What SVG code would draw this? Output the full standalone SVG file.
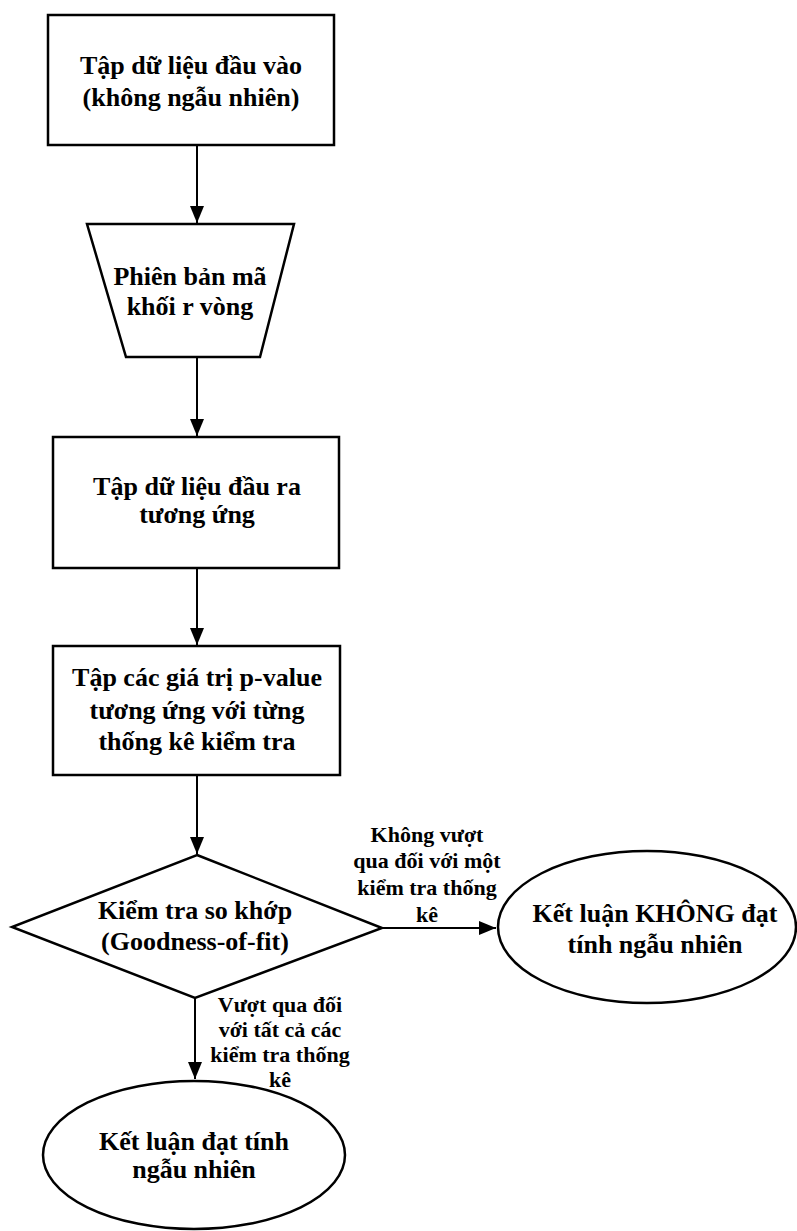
<svg xmlns="http://www.w3.org/2000/svg" width="797" height="1231" viewBox="0 0 797 1231">
<style>
.shape{fill:#fff;stroke:#000;stroke-width:2.5}
.t{font-family:"Liberation Serif","Times New Roman",serif;font-weight:bold;font-size:26px;text-anchor:middle;fill:#000}
.l{font-family:"Liberation Serif","Times New Roman",serif;font-weight:bold;font-size:22px;text-anchor:middle;fill:#000}
.c{fill:none;stroke:#000;stroke-width:2}
</style>
<defs>
<marker id="arr" markerUnits="userSpaceOnUse" markerWidth="18" markerHeight="14" refX="17" refY="7" orient="auto">
<path d="M0,0 L17,7 L0,14 z" fill="#000"/>
</marker>
</defs>
<rect width="797" height="1231" fill="#fff"/>
<g id="connectors">
<line class="c" x1="197" y1="145" x2="197" y2="223" marker-end="url(#arr)"/>
<line class="c" x1="197" y1="357" x2="197" y2="436" marker-end="url(#arr)"/>
<line class="c" x1="197" y1="568" x2="197" y2="645" marker-end="url(#arr)"/>
<line class="c" x1="197" y1="775" x2="197" y2="854" marker-end="url(#arr)"/>
<line class="c" x1="382" y1="928" x2="496" y2="928" marker-end="url(#arr)"/>
<line class="c" x1="195" y1="998" x2="195" y2="1079" marker-end="url(#arr)"/>
</g>
<g id="n1">
<rect class="shape" x="48" y="15" width="286" height="130"/>
<text class="t" x="191" y="74">Tập dữ liệu đầu vào</text>
<text class="t" x="191" y="106">(không ngẫu nhiên)</text>
</g>
<g id="n2">
<polygon class="shape" points="87,224 294,224 260,357 126,357"/>
<text class="t" x="190" y="285">Phiên bản mã</text>
<text class="t" x="190" y="315">khối r vòng</text>
</g>
<g id="n3">
<rect class="shape" x="53" y="437" width="286" height="131"/>
<text class="t" x="197" y="495">Tập dữ liệu đầu ra</text>
<text class="t" x="197" y="523">tương ứng</text>
</g>
<g id="n4">
<rect class="shape" x="53" y="646" width="287" height="129"/>
<text class="t" x="197" y="686">Tập các giá trị p-value</text>
<text class="t" x="197" y="719">tương ứng với từng</text>
<text class="t" x="197" y="750">thống kê kiểm tra</text>
</g>
<g id="n5">
<polygon class="shape" points="197,855 382,928 195,998 12,927"/>
<text class="t" x="195" y="919">Kiểm tra so khớp</text>
<text class="t" x="195" y="950">(Goodness-of-fit)</text>
</g>
<g id="n6">
<ellipse class="shape" cx="647" cy="927" rx="149" ry="76"/>
<text class="t" x="655" y="922">Kết luận KHÔNG đạt</text>
<text class="t" x="655" y="953">tính ngẫu nhiên</text>
</g>
<g id="n7">
<ellipse class="shape" cx="194" cy="1155" rx="151" ry="74"/>
<text class="t" x="194" y="1150">Kết luận đạt tính</text>
<text class="t" x="194" y="1178">ngẫu nhiên</text>
</g>
<g id="labels">
<text class="l" x="427" y="842">Không vượt</text>
<text class="l" x="427" y="868">qua đối với một</text>
<text class="l" x="427" y="895">kiểm tra thống</text>
<text class="l" x="427" y="922">kê</text>
<text class="l" x="280" y="1012">Vượt qua đối</text>
<text class="l" x="280" y="1037">với tất cả các</text>
<text class="l" x="280" y="1062">kiểm tra thống</text>
<text class="l" x="280" y="1087">kê</text>
</g>
</svg>
